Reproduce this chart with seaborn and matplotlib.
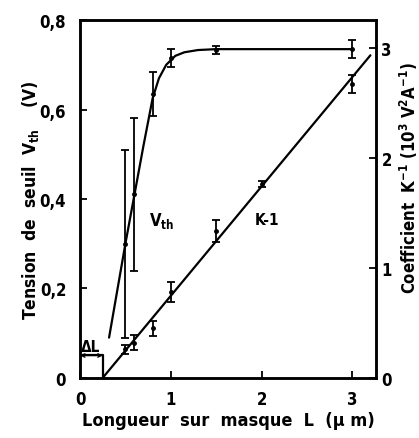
import matplotlib
matplotlib.use("Agg")
import matplotlib.pyplot as plt
import seaborn as sns
import pandas as pd

# Vth measurements (left axis, V)
vth_L = [0.5, 0.6, 0.8, 1.0, 1.5, 3.0]
vth_val = [0.30, 0.41, 0.635, 0.715, 0.733, 0.735]
vth_err = [0.21, 0.17, 0.05, 0.02, 0.008, 0.02]

# hand-drawn Vth curve
curve_L = [0.32, 0.5, 0.6, 0.7, 0.8, 0.87, 0.95, 1.05, 1.15, 1.3, 1.5, 3.0]
curve_v = [0.09, 0.30, 0.41, 0.52, 0.625, 0.67, 0.70, 0.72, 0.728, 0.733, 0.735, 0.735]

# K^-1 measurements (right axis, 10^3 V^2 A^-1)
k_L = [0.5, 0.6, 0.8, 1.0, 1.5, 2.0, 3.0]
k_val = [0.26, 0.32, 0.45, 0.78, 1.33, 1.76, 2.67]
k_err = [0.04, 0.07, 0.07, 0.09, 0.10, 0.03, 0.08]

# fitted straight line for K^-1
kfit_L = [0.25, 3.2]
kfit_v = [0.0, 2.93]

# Delta L box
dl = 0.25
dl_h = 0.05

left_ticks = [0, 0.2, 0.4, 0.6, 0.8]
left_labels = ["0", "0,2", "0,4", "0,6", "0,8"]
right_ticks = [0, 1, 2, 3]
x_ticks = [0, 1, 2, 3]

sns.set_style("ticks", {"axes.edgecolor": "black", "text.color": "black",
                        "axes.labelcolor": "black", "xtick.color": "black",
                        "ytick.color": "black"})
plt.rcParams["font.family"] = ["DejaVu Sans"]
plt.rcParams["font.weight"] = "bold"
plt.rcParams["font.stretch"] = "condensed"

fig = plt.figure(figsize=(4.19, 4.39), dpi=100)
ax = fig.add_axes([0.191, 0.137, 0.706, 0.815])
ax2 = ax.twinx()

df_curve = pd.DataFrame({"L": curve_L, "v": curve_v})
sns.lineplot(data=df_curve, x="L", y="v", ax=ax, color="black", lw=1.6,
             sort=False, estimator=None)
ax.errorbar(vth_L, vth_val, yerr=vth_err, fmt="o", ms=2.5, color="black",
            ecolor="black", elinewidth=1.3, capsize=3, capthick=1.3)

# Delta L box and arrow
ax.plot([0, dl, dl], [dl_h, dl_h, 0], color="black", lw=1.6)
ax.annotate("", xy=(0, dl_h), xytext=(dl, dl_h),
            arrowprops=dict(arrowstyle="<->", color="black", lw=1.0,
                            shrinkA=0, shrinkB=0, mutation_scale=6))
ax.text(dl / 2 - 0.01, dl_h + 0.004, "ΔL", ha="center", va="bottom",
        fontsize=11, fontweight="bold")

ax.text(0.76, 0.353, "V$_{\\mathbf{th}}$", ha="left", va="center",
        fontsize=12, fontweight="bold")
ax.text(1.92, 0.353, "K-1", ha="left", va="center", fontsize=11,
        fontweight="bold")

df_k = pd.DataFrame({"L": kfit_L, "k": kfit_v})
sns.lineplot(data=df_k, x="L", y="k", ax=ax2, color="black", lw=1.6,
             sort=False, estimator=None)
ax2.errorbar(k_L, k_val, yerr=k_err, fmt="o", ms=2.5, color="black",
             ecolor="black", elinewidth=1.3, capsize=3, capthick=1.3)

ax.set_xlim(0, 3.26)
ax.set_ylim(0, 0.8)
ax2.set_ylim(0, 3.25)

ax.set_xticks(x_ticks)
ax.set_xticklabels([str(t) for t in x_ticks])
ax.set_yticks(left_ticks)
ax.set_yticklabels(left_labels)
ax2.set_yticks(right_ticks)
ax2.set_yticklabels([str(t) for t in right_ticks])

for a in (ax, ax2):
    a.tick_params(direction="in", length=5, width=1.3, labelsize=12)
    for s in a.spines.values():
        s.set_linewidth(1.8)
        s.set_visible(True)
ax.tick_params(axis="y", pad=10)
ax.tick_params(axis="x", pad=9)
ax2.tick_params(axis="y", pad=4)

ax.set_xlabel("Longueur  sur  masque  L  (µ m)", fontsize=13, fontweight="bold",
              labelpad=2)
ax.set_ylabel("Tension  de  seuil  V$_{\\mathbf{th}}$    (V)", fontsize=12.5,
              fontweight="bold", labelpad=-1)
ax2.set_ylabel("Coefficient  K$^{\\mathbf{-1}}$ (10$^{\\mathbf{3}}$ V$^{\\mathbf{2}}$A$^{\\mathbf{-1}}$)",
               fontsize=12, fontweight="bold", labelpad=3, rotation=90)
ax2.yaxis.set_label_coords(1.075, 0.56)

fig.savefig("out.png", dpi=100)
